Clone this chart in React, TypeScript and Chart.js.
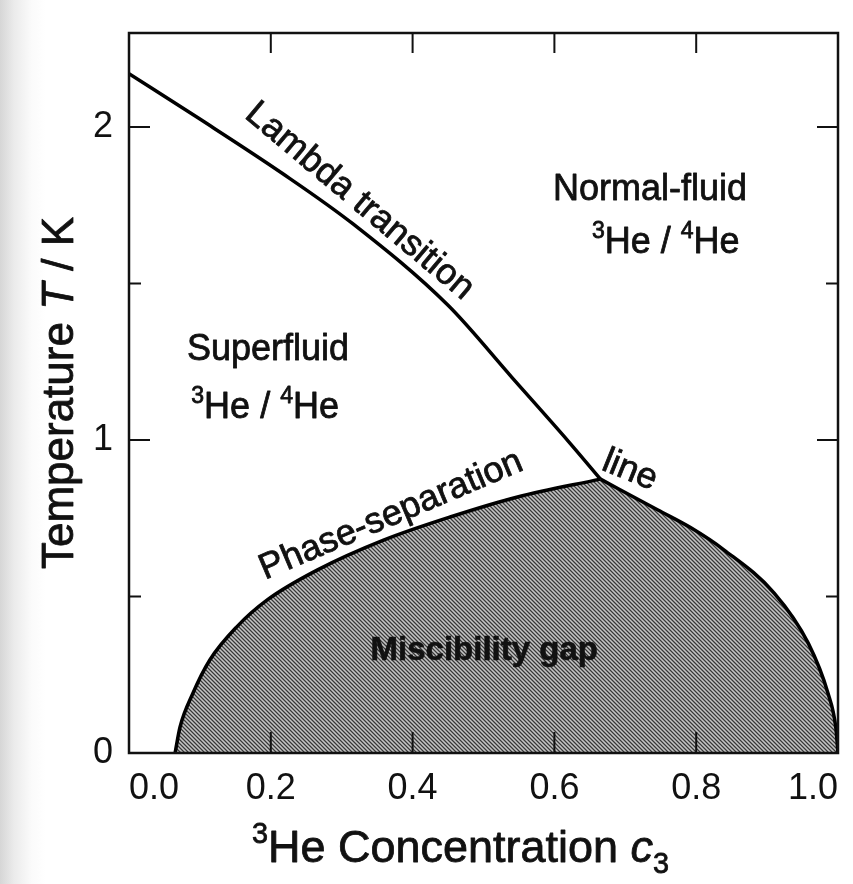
import React, { useEffect, useRef } from "react";
import { Chart, registerables } from "chart.js";

Chart.register(...registerables);

// Lambda transition line T_lambda(c3)
const lambdaC = [0, 0.1, 0.216, 0.316, 0.45, 0.54, 0.62, 0.665];
const lambdaT = [2.17, 2.025, 1.852, 1.69, 1.43, 1.2, 0.995, 0.875];

// Phase-separation line, 3He-poor branch (up to the tricritical point)
const sepLeftC = [0.065, 0.072, 0.09, 0.114, 0.152, 0.195, 0.266, 0.359, 0.453, 0.548, 0.665];
const sepLeftT = [0, 0.083, 0.19, 0.297, 0.403, 0.489, 0.585, 0.68, 0.754, 0.818, 0.875];

// Phase-separation line, 3He-rich branch (from the tricritical point)
const sepRightC = [0.665, 0.746, 0.792, 0.839, 0.91, 0.958, 0.986, 0.997, 1.0];
const sepRightT = [0.875, 0.776, 0.72, 0.649, 0.511, 0.351, 0.19, 0.08, 0];

// Axis ticks
const xTickValues = [0, 0.2, 0.4, 0.6, 0.8, 1.0];
const yTickValues = [0, 0.5, 1, 1.5, 2];
const yLabelled = [0, 1, 2];

type Seg = { t: string; sup?: boolean; sub?: boolean; italic?: boolean };

// Region and line annotations, anchored in data coordinates (c3, T)
const annotations: { segs: Seg[]; c: number; t: number; angle: number; bold?: boolean }[] = [
  { segs: [{ t: "Lambda transition" }], c: 0.328, t: 1.77, angle: 40 },
  { segs: [{ t: "Normal-fluid" }], c: 0.735, t: 1.808, angle: 0 },
  { segs: [{ t: "3", sup: true }, { t: "He / " }, { t: "4", sup: true }, { t: "He" }], c: 0.757, t: 1.639, angle: 0 },
  { segs: [{ t: "Superfluid" }], c: 0.196, t: 1.297, angle: 0 },
  { segs: [{ t: "3", sup: true }, { t: "He / " }, { t: "4", sup: true }, { t: "He" }], c: 0.192, t: 1.112, angle: 0 },
  { segs: [{ t: "Phase-separation" }], c: 0.368, t: 0.768, angle: -23 },
  { segs: [{ t: "line" }], c: 0.708, t: 0.911, angle: 22 },
  { segs: [{ t: "Miscibility gap" }], c: 0.501, t: 0.335, angle: 0, bold: true },
];

const FAMILY = '"Liberation Sans", Arial, Helvetica, sans-serif';
const INK = "#111";

function drawRich(
  ctx: CanvasRenderingContext2D,
  segs: Seg[],
  x: number,
  y: number,
  size: number,
  weight: string,
  stroke = 0.8
) {
  const parts = segs.map((s) => {
    const sz = s.sup || s.sub ? size * 0.64 : size;
    const font = `${s.italic ? "italic " : ""}${weight} ${sz}px ${FAMILY}`;
    ctx.font = font;
    return {
      s,
      font,
      w: ctx.measureText(s.t).width,
      dy: s.sup ? -size * 0.42 : s.sub ? size * 0.24 : 0,
    };
  });
  const total = parts.reduce((a, p) => a + p.w, 0);
  let cx = x - total / 2;
  ctx.textAlign = "left";
  ctx.textBaseline = "alphabetic";
  ctx.strokeStyle = INK;
  ctx.lineWidth = stroke;
  ctx.lineJoin = "round";
  for (const p of parts) {
    ctx.font = p.font;
    ctx.fillText(p.s.t, cx, y + p.dy);
    if (stroke > 0) ctx.strokeText(p.s.t, cx, y + p.dy);
    cx += p.w;
  }
}

function makeStipple(): CanvasPattern | string {
  const tile = document.createElement("canvas");
  tile.width = 4;
  tile.height = 4;
  const g = tile.getContext("2d");
  if (!g) return "#838383";
  g.fillStyle = "#8a8a8a";
  g.fillRect(0, 0, 4, 4);
  for (let i = 0; i < 4; i++) {
    g.fillStyle = "#383838";
    g.fillRect(i, i, 1, 1);
    g.fillStyle = "#c4c4c4";
    g.fillRect((i + 2) % 4, i, 1, 1);
  }
  const pat = g.createPattern(tile, "repeat");
  return pat || "#838383";
}

const framePlugin = {
  id: "frameAndText",
  afterDatasetsDraw(chart: any) {
    const { ctx, chartArea: a, scales } = chart;
    const xs = scales.x;
    const ys = scales.y;
    ctx.save();

    // annotations
    ctx.fillStyle = INK;
    for (const an of annotations) {
      const px = xs.getPixelForValue(an.c);
      const py = ys.getPixelForValue(an.t);
      const size = an.bold ? 33 : 36;
      ctx.save();
      ctx.translate(px, py);
      ctx.rotate((an.angle * Math.PI) / 180);
      drawRich(ctx, an.segs, 0, size * 0.36, size, an.bold ? "bold" : "normal", an.bold ? 0.6 : 0.8);
      ctx.restore();
    }

    // frame
    ctx.strokeStyle = INK;
    ctx.lineWidth = 2.5;
    ctx.strokeRect(a.left, a.top, a.right - a.left, a.bottom - a.top);

    // inward ticks on all four sides
    ctx.lineWidth = 2;
    ctx.beginPath();
    for (const v of xTickValues) {
      if (v <= 0 || v >= 1) continue;
      const px = xs.getPixelForValue(v);
      ctx.moveTo(px, a.bottom);
      ctx.lineTo(px, a.bottom - 21);
      ctx.moveTo(px, a.top);
      ctx.lineTo(px, a.top + 20);
    }
    for (const v of yTickValues) {
      if (v <= 0) continue;
      const py = ys.getPixelForValue(v);
      const len = yLabelled.includes(v) ? 21 : 12;
      ctx.moveTo(a.left, py);
      ctx.lineTo(a.left + len, py);
      ctx.moveTo(a.right, py);
      ctx.lineTo(a.right - len, py);
    }
    ctx.stroke();

    // axis titles
    ctx.fillStyle = INK;
    drawRich(
      ctx,
      [{ t: "3", sup: true }, { t: "He Concentration " }, { t: "c", italic: true }, { t: "3", sub: true }],
      (a.left + a.right) / 2 - 23,
      a.bottom + 109,
      45,
      "normal"
    );
    ctx.save();
    ctx.translate(73, (a.top + a.bottom) / 2);
    ctx.rotate(-Math.PI / 2);
    drawRich(
      ctx,
      [{ t: "Temperature " }, { t: "T", italic: true }, { t: " / K" }],
      0,
      0,
      44,
      "normal"
    );
    ctx.restore();
    ctx.restore();
  },
};

export default function App() {
  const ref = useRef<HTMLCanvasElement | null>(null);

  useEffect(() => {
    if (!ref.current) return;
    const stipple = makeStipple();
    const pts = (cs: number[], ts: number[]) => cs.map((c, i) => ({ x: c, y: ts[i] }));
    const chart = new Chart(ref.current, {
      type: "line",
      data: {
        datasets: [
          {
            label: "Lambda transition",
            data: pts(lambdaC, lambdaT),
            borderColor: "#000",
            borderWidth: 3.5,
            fill: false,
            pointRadius: 0,
            cubicInterpolationMode: "monotone",
          },
          {
            label: "Phase separation (3He-poor)",
            data: pts(sepLeftC, sepLeftT),
            borderColor: "#000",
            borderWidth: 3.5,
            backgroundColor: stipple as any,
            fill: "origin",
            pointRadius: 0,
            cubicInterpolationMode: "monotone",
          },
          {
            label: "Phase separation (3He-rich)",
            data: pts(sepRightC, sepRightT),
            borderColor: "#000",
            borderWidth: 3.5,
            backgroundColor: stipple as any,
            fill: "origin",
            pointRadius: 0,
            cubicInterpolationMode: "monotone",
          },
          {
            // shading along the join of the two filled branches
            label: "join",
            data: [
              { x: sepRightC[0], y: 0 },
              { x: sepRightC[0], y: sepRightT[0] },
            ],
            borderColor: stipple as any,
            borderWidth: 4,
            borderCapStyle: "butt",
            fill: false,
            pointRadius: 0,
          },
        ],
      },
      options: {
        animation: false,
        responsive: true,
        maintainAspectRatio: false,
        layout: { padding: { left: 0, top: 33, right: 15, bottom: 0 } },
        plugins: { legend: { display: false }, tooltip: { enabled: false } },
        scales: {
          x: {
            type: "linear",
            min: 0,
            max: 1,
            grid: { display: false },
            border: { display: false },
            afterBuildTicks: (s: any) => {
              s.ticks = xTickValues.map((v) => ({ value: v }));
            },
            afterFit: (s: any) => {
              s.height = 131;
            },
            ticks: {
              callback: (v: any) => Number(v).toFixed(1),
              font: { family: FAMILY, size: 36 },
              color: INK,
              padding: 6,
              align: "inner",
              maxRotation: 0,
              autoSkip: false,
            },
          },
          y: {
            type: "linear",
            min: 0,
            max: 2.3,
            grid: { display: false },
            border: { display: false },
            afterBuildTicks: (s: any) => {
              s.ticks = yTickValues.map((v) => ({ value: v }));
            },
            afterFit: (s: any) => {
              s.width = 129;
            },
            ticks: {
              callback: (v: any) => (yLabelled.includes(Number(v)) ? String(v) : ""),
              font: { family: FAMILY, size: 36 },
              color: INK,
              padding: 8,
              autoSkip: false,
            },
          },
        },
      },
      plugins: [framePlugin],
    });
    return () => chart.destroy();
  }, []);

  return (
    <div
      style={{
        position: "absolute",
        left: 0,
        top: 0,
        width: 853,
        height: 884,
        background: "linear-gradient(to right, #d6d6d6 0px, #ebebeb 14px, #fbfbfb 32px, #ffffff 46px)",
      }}
    >
      <canvas ref={ref} width={853} height={884} />
    </div>
  );
}
